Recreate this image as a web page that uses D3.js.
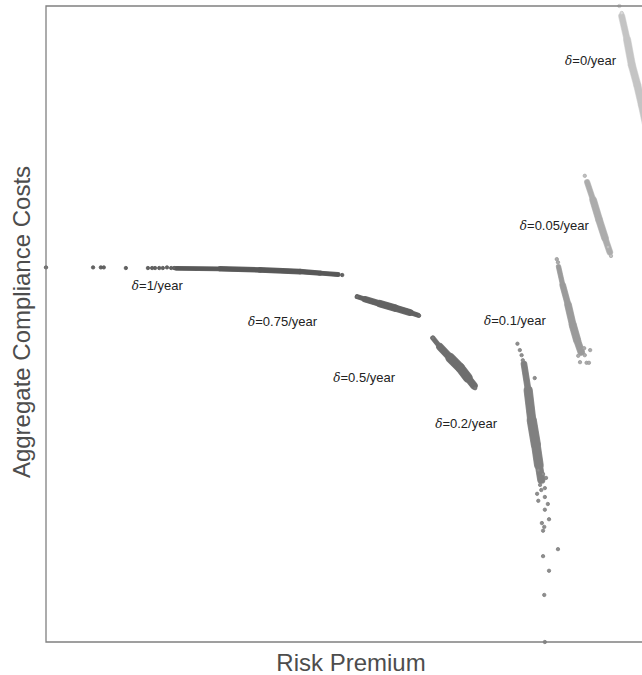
<!DOCTYPE html>
<html>
<head>
<meta charset="utf-8">
<script src="https://cdn.jsdelivr.net/npm/d3@7"></script>
<style>
  html, body { margin: 0; padding: 0; background: #ffffff; }
  svg { display: block; }
</style>
</head>
<body>
<svg id="chart" width="642" height="675"></svg>
<script>
// ---------------- DATA (risk premium, aggregate compliance cost; arbitrary units 0..100) -------------
const deltaLabels = ["0", "0.05", "0.1", "0.2", "0.5", "0.75", "1"];

// dense core of each cluster (centre line through the cloud)
const core_0    = [[96.6,98.4],[97.5,94.7],[98.3,90.7],[99.2,87.6],[100.0,84.4],[100.7,81.3]];
const core_005  = [[90.8,72.3],[91.8,69.5],[92.8,66.4],[93.8,63.5],[94.6,61.3]];
const core_01   = [[86.0,59.0],[86.7,56.1],[87.6,53.0],[88.4,49.8],[89.1,47.5],[89.8,45.6]];
const core_02   = [[80.2,43.7],[80.9,39.6],[81.5,34.9],[82.2,31.0],[82.7,27.8],[83.1,25.5]];
const core_05   = [[64.9,47.8],[66.1,46.4],[67.8,44.7],[69.5,43.1],[70.8,41.5],[71.8,40.3]];
const core_075  = [[52.2,54.3],[53.5,53.9],[56.0,53.2],[58.6,52.5],[61.1,51.8],[62.4,51.4]];
const core_1    = [[21.8,58.76],[29.2,58.68],[35.9,58.5],[42.6,58.25],[46.0,58.0],[49.0,57.78]];

// individually visible (sparse) points of each cluster
const pts_0   = [[96.2,100.0],[96.6,98.9]];
const pts_005 = [[90.4,73.3],[94.8,60.7],[94.3,62.1]];
const pts_01  = [[85.7,60.2],[85.9,59.7],[91.3,45.9],[89.6,44.0],[90.7,43.9],[91.1,43.9],
                 [90.3,46.2],[90.4,45.1],[89.3,45.0]];
const pts_02  = [[79.1,46.9],[79.5,45.9],[79.8,45.1],[80.0,44.3],[82.0,41.5],
                 [82.4,23.3],[82.6,22.2],[83.7,22.8],[84.2,21.7],[83.7,20.8],[83.2,18.7],
                 [84.4,19.3],[83.6,18.1],[83.4,17.5],[82.9,24.7],[83.7,24.2],[83.1,23.9],
                 [83.4,26.4],[83.9,25.8],[82.6,27.0],[85.9,14.6],[83.4,13.5],[84.4,11.2],
                 [83.6,7.4],[83.7,0.0]];
const pts_05  = [[64.9,47.8],[72.0,39.9]];
const pts_075 = [[52.2,54.3],[62.6,51.3]];
const pts_1   = [[0.0,58.9],[7.9,58.9],[9.2,58.9],[9.7,58.9],[13.4,58.8],[17.1,58.8],
                 [17.8,58.8],[18.3,58.8],[19.0,58.8],[19.6,58.8],[20.3,58.9],[21.0,58.8],
                 [21.5,58.8],[49.7,57.7]];

// label anchors (data units)
const labelPos = [[87.1,90.7],[79.5,64.8],[73.5,49.8],[65.3,33.6],[48.2,40.9],[33.9,49.7],[14.4,55.3]];

// ---------------- STYLE ----------------
const colors = ["#c4c4c4", "#acacac", "#9a9a9a", "#808080", "#6e6e6e", "#626262", "#585858"];
const coreWidths = [
  [5,7,7,7,7,7],
  [4,6,7,6,5],
  [3.5,5,6,7,7,6],
  [4,7,9,9,8,6],
  [3,5,8,9,8,5],
  [3,4.5,6,6.5,5,3],
  [3,4,4.5,4.5,4,3.5]
];
const cores = [core_0, core_005, core_01, core_02, core_05, core_075, core_1];
const points = [pts_0, pts_005, pts_01, pts_02, pts_05, pts_075, pts_1];

const W = 642, H = 675;
const margin = {left: 46, right: 0, top: 6, bottom: 33};

const x = d3.scaleLinear().domain([0, 100]).range([margin.left, W - margin.right]);
const y = d3.scaleLinear().domain([0, 100]).range([H - margin.bottom, margin.top]);

const svg = d3.select("#chart");

svg.append("defs").append("clipPath").attr("id", "plotclip")
  .append("rect")
  .attr("x", x(0) - 3).attr("y", y(100) - 3)
  .attr("width", x(100) - x(0) + 6).attr("height", y(0) - y(100) + 6);

const plot = svg.append("g").attr("clip-path", "url(#plotclip)");

cores.forEach((core, ci) => {
  const g = plot.append("g");
  // soft outer halo (edge points of the cloud)
  for (let i = 0; i < core.length - 1; i++) {
    g.append("line")
      .attr("x1", x(core[i][0])).attr("y1", y(core[i][1]))
      .attr("x2", x(core[i+1][0])).attr("y2", y(core[i+1][1]))
      .attr("stroke", d3.color(colors[ci]).brighter(0.35))
      .attr("stroke-width", (coreWidths[ci][i] + coreWidths[ci][i+1]) / 2 + 1.2)
      .attr("stroke-linecap", "round");
  }
  for (let i = 0; i < core.length - 1; i++) {
    g.append("line")
      .attr("x1", x(core[i][0])).attr("y1", y(core[i][1]))
      .attr("x2", x(core[i+1][0])).attr("y2", y(core[i+1][1]))
      .attr("stroke", colors[ci])
      .attr("stroke-width", (coreWidths[ci][i] + coreWidths[ci][i+1]) / 2)
      .attr("stroke-linecap", "round");
  }
  g.selectAll("circle").data(points[ci]).join("circle")
    .attr("cx", d => x(d[0])).attr("cy", d => y(d[1]))
    .attr("r", 1.7)
    .attr("fill", d3.color(colors[ci]).brighter(0.3))
    .attr("stroke", colors[ci])
    .attr("stroke-width", 0.8);
});

// frame (top, left, bottom)
const frame = svg.append("g").attr("stroke", "#808080").attr("stroke-width", 1.3).attr("fill", "none");
frame.append("path")
  .attr("d", `M${x(100) + 2},${y(100)} H${x(0)} V${y(0)} H${x(100) + 2}`);

// cluster labels
const lab = svg.append("g")
  .attr("font-family", "'Liberation Sans', Arial, sans-serif")
  .attr("font-size", 13)
  .attr("fill", "#222");
deltaLabels.forEach((d, i) => {
  const t = lab.append("text")
    .attr("x", x(labelPos[i][0])).attr("y", y(labelPos[i][1]));
  t.append("tspan")
    .attr("font-family", "'DejaVu Serif', 'Liberation Serif', serif")
    .attr("font-style", "italic")
    .attr("font-size", 12)
    .text("δ");
  t.append("tspan").text("=" + d + "/year");
});

// axis titles
svg.append("text")
  .attr("x", 351).attr("y", 671)
  .attr("text-anchor", "middle")
  .attr("font-family", "'Liberation Sans', Arial, sans-serif")
  .attr("font-size", 24)
  .attr("fill", "#4d4d4d")
  .text("Risk Premium");

svg.append("text")
  .attr("transform", "translate(30,322) rotate(-90)")
  .attr("text-anchor", "middle")
  .attr("font-family", "'Liberation Sans', Arial, sans-serif")
  .attr("font-size", 24)
  .attr("fill", "#4d4d4d")
  .text("Aggregate Compliance Costs");
</script>
</body>
</html>
